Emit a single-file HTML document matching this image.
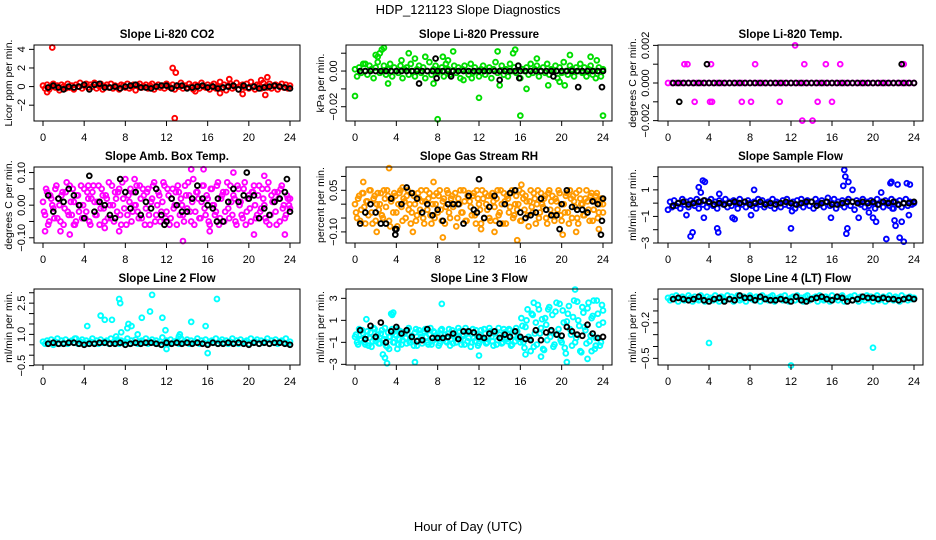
<!DOCTYPE html>
<html><head><meta charset="utf-8"><style>
html,body{margin:0;padding:0;background:#fff;}
svg{display:block;font-family:"Liberation Sans",sans-serif;}
</style></head><body>
<svg id="chart" width="936" height="540" viewBox="0 0 936 540">
<text x="468" y="14" text-anchor="middle" font-size="13">HDP_121123  Slope Diagnostics</text>
<text x="468" y="531" text-anchor="middle" font-size="13">Hour of Day (UTC)</text>
</svg>
<script>
// ---------- data ----------
const xTicks=[0,4,8,12,16,20,24];
const co2Band=[0.1,-0.2,0.2,-0.3,0.0,0.3,-0.1,0.1,-0.4,0.2,0.0,-0.2,0.3,-0.1,0.1,-0.3,0.2,0.0,0.4,-0.2,0.1,0.3,-0.1,0.2,0.0,0.4,-0.2,0.1,0.3,-0.3,0.0,0.2,-0.1,0.3,-0.2,0.1,0.0,-0.3,0.2,0.1,-0.1,0.3,-0.2,0.0,0.2,-0.4,0.1,0.3,-0.1,0.0,0.2,-0.2,0.1,0.3,-0.3,0.0,0.2,-0.1,0.1,-0.2,0.3,0.0,-0.1,0.2,-0.3,0.1,0.0,0.4,-0.2,0.1,-0.1,0.3,0.0,-0.3,0.2,0.1,-0.2,0.4,0.0,-0.1,0.2,-0.3,0.1,0.3,-0.2,0.0,0.5,-0.1,0.2,-0.4,0.1,0.3,-0.2,0.0,0.4,-0.3,0.1,0.2,-0.1,0.3,-0.2,0.5,0.0,-0.3,0.2,0.1,-0.2,0.4,0.0,-0.1,0.3,-0.2,0.1,0.2,-0.3,0.0,0.3,-0.1,0.2,-0.2,0.1];
const co2OutHours=[0.9,12.6,12.9,12.8,21.8,21.6,19.4,18.1,17.2,0.4,14.8,21.2];
const co2OutVals=[4.2,2.0,1.5,-3.4,1.0,-0.9,-0.8,0.8,-0.7,-0.6,-0.5,0.7];
const co2Black=[-0.1,0.1,-0.1,-0.3,0.0,-0.1,0.0,0.2,-0.3,0.2,0.3,-0.1,-0.1,0.0,-0.2,0.0,0.1,0.2,-0.1,-0.1,-0.2,0.0,0.1,0.1,-0.2,0.1,0.1,-0.2,-0.1,0.0,0.1,-0.1,0.0,-0.2,-0.1,0.0,0.1,-0.3,0.1,-0.1,0.0,-0.2,-0.1,0.0,0.1,0.0,-0.1,-0.2];
const co2Ticks=[-2,0,2,4];
const co2Labels=["\u22122","0","2","4"];

const presBand=[0.001,-0.003,0.002,-0.001,0.004,0.0,-0.002,0.003,0.001,-0.004,0.002,0.005,-0.001,0.0,0.003,-0.002,0.001,0.004,-0.003,0.002,0.0,-0.001,0.003,-0.004,0.001,0.002,-0.002,0.004,0.0,-0.003,0.001,0.003,-0.001,0.002,-0.004,0.0,0.005,-0.002,0.001,0.003,-0.001,0.0,0.002,-0.003,0.004,0.001,-0.002,0.0,0.003,-0.001,0.002,-0.004,0.001,0.003,0.0,-0.002,0.004,-0.001,0.002,0.0,-0.003,0.001,0.003,-0.002,0.0,0.002,-0.004,0.001,0.005,-0.001,0.0,0.003,-0.002,0.001,-0.003,0.004,0.0,0.002,-0.001,0.003,-0.004,0.001,0.0,0.002,-0.002,0.004,-0.001,0.001,0.003,-0.003,0.0,0.002,-0.001,0.004,-0.002,0.001,0.0,0.003,-0.004,0.002,-0.001,0.005,0.0,-0.002,0.003,0.001,-0.003,0.002,0.0,0.004,-0.001,0.002,-0.003,0.001,0.003,-0.002,0.0,0.006,0.002,-0.003,0.001];
const presOutHours=[0.0,8.0,12.0,16.0,24.0,2.4,2.6,2.8,2.2,2.0,5.2,8.5,9.5,13.8,15.5,15.3,20.8,22.8,17.6,3.2,7.6,18.7,20.3,16.6,14.0,10.5,1.0,4.5,6.8,11.3,19.8,23.3,5.8,9.0];
const presOutVals=[-0.014,-0.027,-0.015,-0.025,-0.025,0.010,0.012,0.013,0.008,0.009,0.010,0.008,0.011,0.011,0.012,0.010,0.009,0.008,0.007,-0.007,-0.007,-0.008,-0.008,-0.010,-0.008,-0.005,0.004,0.006,0.008,-0.004,-0.006,-0.004,0.007,0.006];
const presBlack=[0,0,0,0,0,0,0,0,0,0,0,0,0,0,0,0,0,0,0,0,0,0,0,0,0,0,0,0,0,0,0,0,0,0,0,0,0,0,0,0,0,0,0,0,0,0,0,0];
const presBlackExtraHours=[6.2,7.8,7.9,14.0,15.8,15.9,19.2,21.6,23.9,9.3];
const presBlackExtraVals=[-0.007,0.007,-0.004,-0.005,0.003,-0.004,-0.003,-0.009,-0.009,-0.003];
const presTicks=[-0.02,-0.01,0.00,0.01];
const presLabels=["\u22120.02","","0.00",""];

const tempBand=[0,0,0,0,0,0,0,0,0,0,0,0,0,0,0,0,0,0,0,0,0,0,0,0,0,0,0,0,0,0,0,0,0,0,0,0,0,0,0,0,0,0,0,0,0,0,0,0,0,0,0,0,0,0,0,0,0,0,0,0,0];
const tempOutHours=[1.6,1.9,4.2,8.5,13.3,15.4,16.8,23.0,12.4,2.6,4.1,4.3,7.2,8.1,10.9,14.6,16.0,13.1,14.1];
const tempOutVals=[0.001,0.001,0.001,0.001,0.001,0.001,0.001,0.001,0.002,-0.001,-0.001,-0.001,-0.001,-0.001,-0.001,-0.001,-0.001,-0.002,-0.002];
const tempBlack=[0,0,0,0,0,0,0,0,0,0,0,0,0,0,0,0,0,0,0,0,0,0,0,0,0,0,0,0,0,0,0,0,0,0,0,0,0,0,0,0,0,0,0,0,0,0,0,0];
const tempBlackExtraHours=[3.8,22.8,1.1];
const tempBlackExtraVals=[0.001,0.001,-0.001];
const tempTicks=[-0.002,-0.001,0.000,0.001,0.002];
const tempLabels=["\u22120.002","","0.000","","0.002"];

const ambBand=[0.01,-0.03,0.04,-0.05,0.02,-0.01,0.05,-0.04,0.0,0.03,-0.06,0.04,-0.02,0.06,-0.03,0.01,-0.05,0.03,0.0,-0.04,0.05,-0.02,0.02,-0.06,0.04,0.01,-0.03,0.06,-0.01,0.03,-0.05,0.02,0.07,-0.04,0.0,0.04,-0.02,0.05,-0.06,0.02,0.08,-0.03,0.01,-0.05,0.04,0.0,-0.02,0.06,-0.04,0.03,-0.01,0.05,-0.06,0.02,0.07,-0.03,0.04,-0.05,0.01,0.06,-0.02,0.03,-0.04,0.05,0.0,-0.06,0.04,0.02,-0.03,0.06,-0.01,0.03,-0.05,0.08,-0.02,0.04,-0.04,0.01,0.06,-0.03,0.02,-0.06,0.05,0.0,-0.02,0.07,-0.04,0.03,-0.05,0.04,-0.01,0.06,-0.03,0.02,-0.06,0.05,0.01,-0.04,0.07,-0.02,0.03,-0.05,0.04,0.0,-0.03,0.06,-0.01,0.02,-0.04,0.05,-0.06,0.03,0.01,-0.02,0.04,-0.05,0.06,0.0,-0.03,0.02,-0.01];
const ambBand2=[-0.02,0.05,-0.06,0.03,0.0,-0.04,0.06,0.02,-0.05,0.04,-0.01,0.07,-0.03,0.01,0.05,-0.06,0.03,-0.02,0.06,0.0,-0.04,0.04,-0.05,0.02,0.06,-0.03,0.01,-0.06,0.05,-0.01,0.03,-0.04,0.0,0.06,-0.05,0.02,0.04,-0.03,0.07,-0.01,-0.06,0.03,0.05,-0.02,0.0,0.06,-0.04,0.02,0.05,-0.06,0.04,-0.03,0.01,0.06,-0.05,0.0,0.03,-0.02,0.07,-0.04,0.05,-0.06,0.02,-0.01,0.04,0.06,-0.03,0.0,-0.05,0.03,0.07,-0.02,0.01,-0.06,0.04,0.02,-0.04,0.06,-0.01,0.03,-0.05,0.05,0.0,-0.03,0.06,-0.06,0.02,0.04,-0.02,0.07,-0.04,0.01,0.03,-0.05,0.06,0.0,-0.03,0.05,-0.06,0.02,-0.01,0.04,0.06,-0.04,0.03,-0.02,0.05,0.0,-0.05,0.07,-0.03,0.01,0.04,-0.06,0.02,0.05,-0.01,-0.04,0.03,0.0,0.02];
const ambOutHours=[0.2,1.7,2.6,7.4,13.6,14.4,15.6,16.2,18.5,20.5,21.5,23.5,4.4,8.9,3.0,6.0];
const ambOutVals=[-0.08,-0.08,-0.09,-0.08,-0.11,0.11,0.11,-0.08,0.10,-0.09,0.09,-0.09,0.06,0.08,-0.06,-0.07];
const ambBlack=[0.03,-0.02,0.02,0.01,0.05,0.03,0.0,-0.04,0.09,-0.02,0.01,0.0,-0.03,-0.04,0.08,0.04,-0.01,0.04,-0.03,0.01,-0.01,0.05,-0.03,-0.05,0.02,0.0,-0.02,-0.02,0.02,0.06,0.02,0.0,-0.01,0.02,-0.05,0.01,0.05,0.01,0.03,0.02,0.03,-0.04,-0.01,-0.03,0.01,0.02,0.04,-0.02];
const ambBlackExtraHours=[19.8,23.7,11.8,16.9];
const ambBlackExtraVals=[0.10,0.08,-0.06,-0.05];
const ambTicks=[-0.10,-0.05,0.00,0.05,0.10];
const ambLabels=["\u22120.10","","0.00","","0.10"];

const rhBand=[0.0,-0.05,0.03,-0.02,0.04,-0.07,0.01,0.05,-0.03,0.02,-0.06,0.04,0.0,-0.04,0.05,-0.01,0.03,-0.08,0.02,0.04,-0.03,0.0,0.05,-0.06,0.01,0.03,-0.02,-0.07,0.04,0.0,-0.04,0.02,0.05,-0.05,0.01,-0.02,0.04,-0.07,0.03,0.0,-0.03,0.05,-0.06,0.02,-0.01,0.04,-0.05,0.03,0.0,-0.08,0.02,0.05,-0.03,0.01,-0.06,0.04,-0.01,0.03,-0.04,0.05,0.0,-0.07,0.02,0.04,-0.02,-0.05,0.03,0.01,-0.06,0.05,-0.03,0.0,0.04,-0.07,0.02,-0.01,0.05,-0.04,0.03,0.0,-0.06,0.04,-0.02,0.01,-0.08,0.05,-0.03,0.02,0.0,-0.05,0.04,-0.01,0.03,-0.07,0.05,0.01,-0.04,0.02,-0.02,0.04,-0.06,0.0,0.03,-0.03,0.05,-0.05,0.01,0.04,-0.07,0.02,0.0,-0.04,0.05,-0.02,0.03,-0.06,0.01,0.04,-0.03,0.02,0.0];
const rhBand2=[-0.03,0.02,-0.06,0.04,-0.01,0.01,-0.04,0.05,-0.07,0.03,0.0,-0.02,0.04,-0.05,0.02,0.05,-0.06,0.01,-0.03,0.03,-0.08,0.04,-0.01,0.02,-0.05,0.05,0.0,-0.03,0.03,-0.06,0.04,-0.02,0.01,-0.07,0.05,0.02,-0.04,0.0,-0.05,0.04,0.03,-0.02,0.01,-0.07,0.05,-0.03,0.02,-0.01,0.04,-0.05,0.0,-0.03,0.05,-0.06,0.03,0.01,-0.04,0.04,-0.07,0.02,-0.02,0.05,-0.05,0.0,0.03,-0.06,0.04,-0.01,0.02,-0.04,0.05,-0.07,0.01,0.03,-0.03,0.04,-0.05,0.0,-0.02,0.05,-0.06,0.02,0.03,-0.04,0.01,-0.01,0.04,-0.07,0.05,-0.03,0.0,0.02,-0.05,0.04,-0.02,0.03,-0.06,0.01,0.05,-0.04,0.0,-0.03,0.04,-0.07,0.02,0.03,-0.01,-0.05,0.05,0.0,-0.04,0.02,0.01,-0.06,0.04,-0.02,0.03,-0.05,0.0,0.02,-0.03];
const rhOutHours=[3.3,0.8,7.6,8.5,15.7,16.1,2.1,5.6,20.1,21.4,23.6,4.6,12.2,13.5];
const rhOutVals=[0.13,0.08,0.08,-0.12,-0.13,0.07,-0.10,-0.10,-0.11,-0.10,-0.09,0.06,-0.09,-0.10];
const rhBlack=[-0.07,-0.03,0.0,-0.03,-0.07,-0.07,0.02,-0.09,0.0,0.06,0.04,0.02,-0.03,0.0,-0.04,-0.02,-0.06,0.0,0.0,0.0,-0.07,0.03,-0.02,0.09,-0.05,-0.01,0.03,-0.07,0.0,0.04,0.05,-0.03,-0.05,-0.04,-0.03,0.02,-0.02,-0.04,-0.04,0.0,0.05,-0.01,-0.02,-0.02,-0.03,0.01,0.0,0.02];
const rhBlackExtraHours=[3.9,3.9,19.8,23.8,23.9,11.8];
const rhBlackExtraVals=[-0.09,-0.11,-0.09,-0.11,-0.06,-0.03];
const rhTicks=[-0.10,-0.05,0.00,0.05,0.10];
const rhLabels=["\u22120.10","","","0.05",""];

const sampleBand=[-0.5,0.1,-0.3,0.2,-0.2,0.0,-0.4,0.3,-0.1,0.1,-0.3,0.2,0.0,-0.2,0.3,-0.4,0.1,-0.1,0.2,-0.3,0.0,0.3,-0.2,0.1,-0.4,0.2,0.0,-0.1,0.3,-0.3,0.1,-0.2,0.2,0.0,-0.4,0.3,-0.1,0.1,-0.3,0.2,0.0,-0.2,0.1,-0.4,0.3,-0.1,0.2,-0.3,0.0,0.1,-0.2,0.3,-0.4,0.1,0.0,-0.3,0.2,-0.1,0.3,-0.2,0.0,0.1,-0.4,0.2,-0.1,0.3,-0.3,0.0,0.2,-0.2,0.1,-0.4,0.3,0.0,-0.1,0.2,-0.3,0.1,0.4,-0.2,0.0,0.3,-0.4,0.1,-0.1,0.2,-0.3,0.0,0.3,-0.2,0.1,-0.5,0.2,0.0,-0.1,0.3,-0.3,0.1,-0.2,0.2,0.0,-0.4,0.3,-0.1,0.1,-0.3,0.2,0.0,-0.2,0.3,-0.4,0.1,-0.1,0.2,-0.3,0.0,0.3,-0.2,0.1,-0.1,0.0];
const sampleOutHours=[2.2,2.4,3.0,3.4,3.6,1.8,3.5,4.8,4.9,6.3,6.5,8.4,8.1,12.0,12.1,15.9,17.2,17.3,17.4,17.1,17.5,17.6,18.0,18.6,20.0,20.3,20.8,21.3,21.7,21.8,22.1,22.2,22.4,22.6,22.8,23.0,23.3,23.6,23.5,21.9,19.6,5.0,3.2];
const sampleOutVals=[-2.5,-2.2,1.2,1.7,1.6,-0.9,-1.1,-1.9,-2.2,-1.1,-1.2,1.0,-0.9,-1.9,-0.6,-1.1,2.5,2.0,-2.3,1.3,-1.9,1.6,1.0,-1.1,-1.1,-1.4,0.8,-2.7,1.5,1.6,-1.3,-1.7,1.4,-2.6,-1.4,-2.9,1.5,1.4,-0.9,-0.4,-0.7,0.7,0.8];
const sampleBlack=[-0.2,0.0,0.1,-0.1,0.0,0.1,0.2,0.1,-0.1,0.0,-0.1,0.0,0.1,0.0,0.1,-0.1,0.0,0.1,-0.1,0.0,-0.1,0.0,0.1,0.0,-0.1,0.0,0.1,0.1,-0.2,0.0,0.1,-0.1,-0.1,0.0,0.1,0.1,0.0,0.1,0.0,0.1,-0.1,0.1,0.0,0.1,-0.1,0.0,0.0,0.1];
const sampleTicks=[-3,-2,-1,0,1,2];
const sampleLabels=["\u22123","","\u22121","","1",""];

const line2Band=[0.65,0.55,0.7,0.6,0.75,0.5,0.65,0.8,0.55,0.7,0.6,0.75,0.55,0.65,0.7,0.6,0.8,0.55,0.65,0.75,0.6,0.7,0.55,0.65,0.8,0.6,0.7,0.55,0.75,0.6,0.65,0.7,0.55,0.8,0.6,0.65,0.75,0.55,0.7,0.6,0.65,0.8,0.55,0.7,0.6,0.75,0.55,0.65,0.7,0.6,0.8,0.55,0.65,0.75,0.6,0.7,0.55,0.65,0.85,0.6,0.7,0.55,0.75,0.6,0.65,0.7,0.55,0.8,0.6,0.65,0.75,0.55,0.7,0.6,0.65,0.8,0.55,0.7,0.6,0.75,0.55,0.65,0.7,0.6,0.8,0.55,0.65,0.75,0.6,0.7,0.55,0.65,0.8,0.6,0.7,0.55,0.75,0.6,0.65,0.7,0.55,0.8,0.6,0.65,0.75,0.55,0.7,0.6,0.65,0.8,0.55,0.7,0.6,0.75,0.55,0.65,0.7,0.6,0.8,0.55,0.65];
const line2OutHours=[4.3,5.6,6.0,6.7,7.4,7.5,7.6,8.2,8.6,8.3,9.2,9.6,10.4,10.6,11.6,11.9,13.2,13.3,14.4,15.8,16.9,12.0,16.0,7.1,3.1];
const line2OutVals=[1.4,1.9,1.7,1.7,2.7,2.5,1.1,1.3,1.4,1.5,1.0,1.8,2.1,2.9,1.8,1.2,0.9,1.0,1.6,1.4,2.7,0.3,0.1,0.9,0.8];
const line2Black=[0.55,0.6,0.55,0.55,0.6,0.6,0.55,0.5,0.55,0.55,0.6,0.6,0.55,0.55,0.6,0.5,0.55,0.6,0.55,0.6,0.6,0.55,0.5,0.6,0.55,0.6,0.55,0.6,0.55,0.6,0.55,0.5,0.6,0.55,0.55,0.6,0.55,0.6,0.55,0.5,0.6,0.55,0.6,0.55,0.6,0.6,0.55,0.5];
const line2Ticks=[-0.5,0.0,0.5,1.0,1.5,2.0,2.5,3.0];
const line2Labels=["\u22120.5","","","1.0","","","2.5",""];

const line3Band=[-0.5,-1.0,0.2,-0.8,-0.2,-1.2,0.0,-0.6,-1.4,0.3,-0.9,-0.3,-1.1,0.1,-0.7,-1.3,-0.1,-0.5,0.2,-1.0,-0.4,-1.2,0.0,-0.8,-0.2,-1.1,0.3,-0.6,-0.9,-0.1,-1.3,0.1,-0.5,-0.8,0.2,-1.0,-0.3,-1.2,0.0,-0.7,-0.4,-1.1,0.2,-0.6,-0.9,-0.2,-1.3,0.1,-0.5,-1.0,0.3,-0.8,-0.3,-1.2,0.0,-0.6,-1.4,0.2,-0.9,-0.4,-1.1,0.1,-0.7,-0.2,-1.0,0.3,-0.5,-1.3,0.0,-0.8,-0.3,-1.1,0.2,-0.6,-0.9,0.1,-1.2,-0.4,0.3,-0.7,-1.0,0.5,-1.5,1.0,-0.5,-1.8,1.5,-0.2,-1.2,2.0,0.3,-1.6,1.2,-0.8,2.2,0.0,-1.4,1.8,-0.3,2.5,-1.0,0.8,-2.0,1.6,0.2,-1.3,2.8,-0.6,1.0,-1.8,2.2,0.4,-1.1,2.6,-0.4,1.4,-1.6,2.8,0.6,-1.0,1.9];
const line3Band2=[-0.3,-1.2,-0.7,0.1,-1.0,-0.4,-1.3,-0.1,-0.9,0.2,-0.6,-1.1,-0.2,-0.8,0.3,-1.4,-0.5,0.0,-1.0,-0.3,0.2,-0.7,-1.2,-0.1,-0.6,0.1,-1.0,-0.4,-1.3,0.2,-0.8,-0.2,-1.1,0.0,-0.5,-1.2,0.3,-0.9,-0.1,-0.6,-1.3,0.1,-0.8,-0.3,-1.0,0.2,-0.7,-1.1,-0.2,-0.5,0.0,-1.2,-0.4,0.3,-0.9,-0.1,-1.0,-0.6,0.1,-1.3,-0.3,-0.8,0.2,-1.1,-0.5,0.0,-0.9,-0.2,-1.2,0.3,-0.6,-1.0,-0.1,-0.7,0.2,-1.3,-0.4,-0.9,0.0,-0.6,1.2,-1.0,0.4,2.0,-0.7,1.6,-1.4,0.8,2.4,-0.2,1.1,-1.7,0.6,2.0,-0.5,1.5,-1.2,2.6,0.2,-0.8,1.9,-1.5,0.9,2.3,-0.3,1.3,-1.0,2.7,0.5,-1.9,1.7,0.1,2.1,-0.9,1.2,2.8,-0.6,1.6,-1.3,2.4,0.8];
const line3OutHours=[2.7,2.9,3.1,3.3,3.5,3.7,5.8,8.4,12.0,16.5,17.3,18.0,20.5,21.3,22.5,22.9,23.3,1.1,3.6,4.1];
const line3OutVals=[-2.1,-2.4,-2.9,-1.6,1.6,1.7,-2.8,2.5,-2.2,-2.1,2.6,-2.3,-2.8,3.8,-2.5,-1.8,-1.3,1.1,1.5,-1.6];
const line3Black=[0.1,-0.7,0.5,-0.5,0.8,-1.0,0.0,0.4,-0.2,0.1,-0.5,-0.9,-0.8,0.2,-0.6,-0.6,-0.6,-0.5,-0.2,-0.7,0.0,0.0,-0.1,-0.5,-0.6,-0.2,0.0,-0.6,-0.3,-0.5,0.0,-0.5,-0.7,-0.8,0.1,-0.8,-0.1,0.1,-0.3,-0.4,0.4,0.0,-0.3,-0.4,0.6,-0.2,-0.6,-0.5];
const line3Ticks=[-3,-1,1,3];
const line3Labels=["\u22123","\u22121","1","3"];

const line4Band=[0.01,-0.01,0.02,0.0,0.03,-0.02,0.01,0.02,-0.01,0.0,0.03,0.01,-0.02,0.02,0.0,-0.01,0.03,0.01,-0.02,0.02,0.0,0.01,-0.01,0.03,0.0,-0.02,0.02,0.01,-0.01,0.03,0.0,0.02,-0.02,0.01,0.03,-0.01,0.0,0.02,-0.02,0.01,0.03,0.0,-0.01,0.02,0.01,-0.02,0.03,0.0,0.01,-0.01,0.02,0.03,-0.02,0.0,0.01,0.02,-0.01,0.03,0.0,-0.02,0.01,0.02,-0.01,0.03,0.0,0.01,-0.02,0.02,0.03,-0.01,0.0,0.01,0.02,-0.02,0.03,0.0,-0.01,0.02,0.01,-0.02,0.03,0.0,0.01,-0.01,0.02,0.03,-0.02,0.0,0.01,0.02,-0.01,0.03,0.0,-0.02,0.02,0.01,-0.01,0.03,0.0,0.02,-0.02,0.01,0.03,-0.01,0.0,0.02,-0.02,0.01,0.03,0.0,-0.01,0.02,0.01,-0.02,0.03,0.0,0.01,-0.01,0.02,0.0,0.01];
const line4OutHours=[4.0,12.0,20.0];
const line4OutVals=[-0.37,-0.56,-0.41];
const line4Black=[0.0,0.01,0.0,-0.01,0.0,0.02,-0.01,-0.02,0.0,0.01,-0.02,0.0,-0.01,0.03,0.01,0.01,-0.01,0.02,0.0,-0.01,-0.01,0.0,-0.01,-0.02,0.02,-0.01,-0.02,0.0,0.01,0.02,0.0,-0.01,0.02,0.01,-0.02,-0.01,0.0,0.02,0.01,0.01,0.0,0.01,0.0,0.0,-0.01,0.0,0.01,0.0];
const line4Ticks=[-0.5,-0.4,-0.3,-0.2,-0.1,0.0];
const line4Labels=["\u22120.5","","","\u22120.2","",""];

// ---------- layout ----------
const svg=document.getElementById('chart');
const NS='http://www.w3.org/2000/svg';
const cols=[{l:34,r:300,x0:43,x24:290},{l:346,r:612,x0:355,x24:603},{l:658,r:923,x0:668,x24:914}];
const rows=[45,167,289];
const H=76;
const panels=[
 {id:'co2',c:0,r:0,title:'Slope Li-820 CO2',ylab:'Licor ppm per min.',dom:[4.47,-3.7],col:'#ff0000',bands:[co2Band],oh:co2OutHours,ov:co2OutVals,blk:co2Black,bh:[],bv:[],ticks:co2Ticks,labels:co2Labels},
 {id:'pressure',c:1,r:0,title:'Slope Li-820 Pressure',ylab:'kPa per min.',dom:[0.0146,-0.028],col:'#00dd00',bands:[presBand],oh:presOutHours,ov:presOutVals,blk:presBlack,bh:presBlackExtraHours,bv:presBlackExtraVals,ticks:presTicks,labels:presLabels},
 {id:'temp',c:2,r:0,title:'Slope Li-820 Temp.',ylab:'degrees C per min.',dom:[0.00202,-0.00202],col:'#ff00ff',bands:[tempBand],oh:tempOutHours,ov:tempOutVals,blk:tempBlack,bh:tempBlackExtraHours,bv:tempBlackExtraVals,ticks:tempTicks,labels:tempLabels},
 {id:'amb-box-temp',c:0,r:1,title:'Slope Amb. Box Temp.',ylab:'degrees C per min.',dom:[0.117,-0.116],col:'#ff00ff',bands:[ambBand,ambBand2],oh:ambOutHours,ov:ambOutVals,blk:ambBlack,bh:ambBlackExtraHours,bv:ambBlackExtraVals,ticks:ambTicks,labels:ambLabels},
 {id:'gas-stream-rh',c:1,r:1,title:'Slope Gas Stream RH',ylab:'percent per min.',dom:[0.134,-0.14],col:'#ff9a00',bands:[rhBand,rhBand2],oh:rhOutHours,ov:rhOutVals,blk:rhBlack,bh:rhBlackExtraHours,bv:rhBlackExtraVals,ticks:rhTicks,labels:rhLabels},
 {id:'sample-flow',c:2,r:1,title:'Slope Sample Flow',ylab:'ml/min per min.',dom:[2.72,-3.0],col:'#0000ff',bands:[sampleBand],oh:sampleOutHours,ov:sampleOutVals,blk:sampleBlack,bh:[],bv:[],ticks:sampleTicks,labels:sampleLabels},
 {id:'line2-flow',c:0,r:2,title:'Slope Line 2 Flow',ylab:'ml/min per min.',dom:[3.18,-0.47],col:'#00ffff',bands:[line2Band],oh:line2OutHours,ov:line2OutVals,blk:line2Black,bh:[],bv:[],ticks:line2Ticks,labels:line2Labels},
 {id:'line3-flow',c:1,r:2,title:'Slope Line 3 Flow',ylab:'ml/min per min.',dom:[3.85,-3.06],col:'#00ffff',bands:[line3Band,line3Band2],oh:line3OutHours,ov:line3OutVals,blk:line3Black,bh:[],bv:[],ticks:line3Ticks,labels:line3Labels},
 {id:'line4-flow',c:2,r:2,title:'Slope Line 4 (LT) Flow',ylab:'ml/min per min.',dom:[0.085,-0.556],col:'#00ffff',bands:[line4Band],oh:line4OutHours,ov:line4OutVals,blk:line4Black,bh:[],bv:[],ticks:line4Ticks,labels:line4Labels}
];

function mk(tag,attrs,parent){const e=document.createElementNS(NS,tag);for(const k in attrs)e.setAttribute(k,attrs[k]);(parent||svg).appendChild(e);return e;}

panels.forEach(p=>{
  const C=cols[p.c],top=rows[p.r],bot=top+H;
  const g=mk('g',{});
  
  
  const xs=h=>C.x0+h/24*(C.x24-C.x0);
  const ys=v=>top+(p.dom[0]-v)/(p.dom[0]-p.dom[1])*H;
  const t=mk('text',{x:(C.l+C.r)/2,y:top-7,'text-anchor':'middle','font-size':'11.5','font-weight':'bold'},g);
  t.textContent=p.title;
  
  
  const cy=(top+bot)/2;
  const yl=mk('text',{x:C.l-22,y:cy,'text-anchor':'middle','font-size':'10.5',transform:`rotate(-90 ${C.l-22} ${cy})`},g);
  yl.textContent=p.ylab;
  
  
  const pts=mk('g',{fill:'none','stroke-width':'1.9'},g);
  
  
  p.bands.forEach((arr,bi)=>{
    arr.forEach((v,i)=>{
      const h=i*24/(arr.length-1)+(bi?0.1:0);
      const c=mk('circle',{cx:xs(Math.min(h,24)),cy:ys(v),r:2.4,stroke:p.col},pts);
      
      
    });
  });
  p.oh.forEach((h,i)=>{
    const c=mk('circle',{cx:xs(h),cy:ys(p.ov[i]),r:2.4,stroke:p.col},pts);
    
    
  });
  p.blk.forEach((v,i)=>{
    const h=0.5*(i+1);
    const c=mk('circle',{cx:xs(h),cy:ys(v),r:2.4,stroke:'#000'},pts);
    
    
  });
  p.bh.forEach((h,i)=>{
    const c=mk('circle',{cx:xs(h),cy:ys(p.bv[i]),r:2.4,stroke:'#000'},pts);
    
    
  });
  const b=mk('rect',{x:C.l,y:top,width:C.r-C.l,height:H,fill:'none',stroke:'#000','stroke-width':'1'},g);
  
  
  const xa=mk('g',{stroke:'#000','stroke-width':'1'},g);
  
  
  xTicks.forEach(tv=>{
    mk('line',{x1:xs(tv),x2:xs(tv),y1:bot,y2:bot+5},xa);
    const tl=mk('text',{x:xs(tv),y:bot+20,'text-anchor':'middle','font-size':'11',stroke:'none'},xa);
    tl.textContent=String(tv);
    
    
  });
  const ya=mk('g',{stroke:'#000','stroke-width':'1'},g);
  
  
  p.ticks.forEach((tv,i)=>{
    const y=ys(tv);
    mk('line',{x1:C.l-5,x2:C.l,y1:y,y2:y},ya);
    if(p.labels[i]){
      const tl=mk('text',{x:C.l-9,y:y,'text-anchor':'middle','font-size':'11',stroke:'none',transform:`rotate(-90 ${C.l-9} ${y})`},ya);
      tl.textContent=p.labels[i];
      
      
    }
  });
});
</script>
</body></html>
